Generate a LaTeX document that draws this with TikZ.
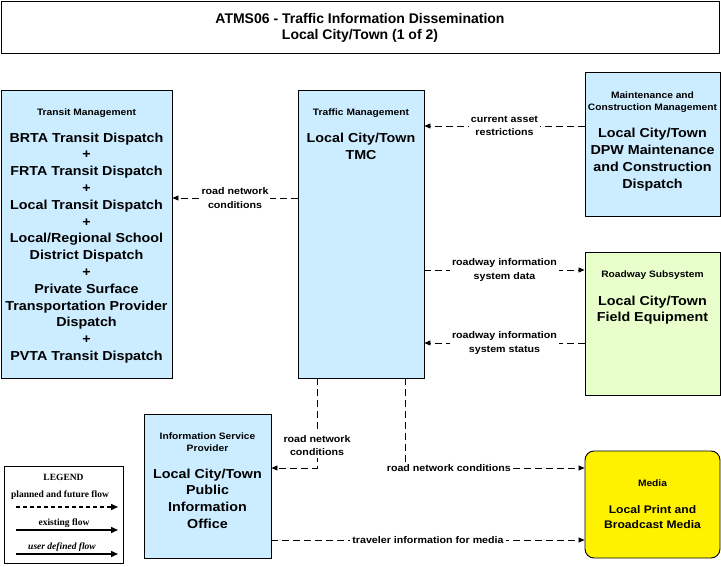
\documentclass[tikz,border=0pt]{standalone}
\usepackage{fontspec}
\setmainfont{Liberation Sans}
\newfontfamily\wideface[FakeStretch=1.1]{Liberation Sans}
\newfontfamily\legendface{Liberation Serif}
\usetikzlibrary{positioning,arrows.meta}
\definecolor{centerblue}{HTML}{CCECFF}
\definecolor{fieldgreen}{HTML}{E8FFCC}
\tikzset{
  element/.style={
    shape = rectangle,
    draw,
    line width = 0.9pt,
    inner sep = 0pt,
    fill = centerblue
  },
  head/.style={
    font = \wideface\bfseries\fontsize{9.3}{12}\selectfont,
    align = center,
    inner sep = 0pt
  },
  body/.style={
    font = \wideface\bfseries\fontsize{13}{16.8}\selectfont,
    align = center,
    inner sep = 0pt
  },
  flowlabel/.style={
    font = \wideface\bfseries\fontsize{9.7}{13.5}\selectfont,
    align = center,
    fill = white,
    inner sep = 2pt
  },
  flow/.style={
    line width = 0.8pt,
    dash pattern = on 7pt off 4pt,
    -{Triangle[length=6pt,width=5pt]}
  },
  legendtext/.style={
    font = \legendface\bfseries\fontsize{9.5}{10}\selectfont,
    inner sep = 0pt
  },
  legendflow/.style={
    line width = 1.5pt,
    -{Triangle[length=7pt,width=6pt]}
  }
}

\begin{document}
\begin{tikzpicture}[x=1pt, y=-1pt]
        \useasboundingbox (0,0) rectangle (721,567);
        \node[element, fill=white, minimum width=718pt, minimum height=52pt] (title) at (360,27) {};
        \node[below=12.5pt of title.north, align=center, inner sep=0pt, font=\bfseries\fontsize{14}{16.5}\selectfont] (titletext) {ATMS06 - Traffic Information Dissemination\\Local City/Town (1 of 2)};

        \node[element, minimum width=171pt, minimum height=288pt] (transit) at (86.5,234) {};
        \node[head, below=19pt of transit.north] (transithead) {Transit Management};
        \node[body, below=43pt of transit.north] (transitbody) {BRTA Transit Dispatch\\+\\FRTA Transit Dispatch\\+\\Local Transit Dispatch\\+\\Local/Regional School\\District Dispatch\\+\\Private Surface\\Transportation Provider\\Dispatch\\+\\PVTA Transit Dispatch};

        \node[element, minimum width=126pt, minimum height=288pt] (tmc) at (361,234) {};
        \node[head, below=19pt of tmc.north] (tmchead) {Traffic Management};
        \node[body, below=43.5pt of tmc.north] (tmcbody) {Local City/Town\\TMC};

        \node[element, minimum width=135pt, minimum height=144pt] (maint) at (652.5,144) {};
        \node[head, below=20.5pt of maint.north] (mainthead) {Maintenance and\\Construction Management};
        \node[body, below=56.5pt of maint.north] (maintbody) {Local City/Town\\DPW Maintenance\\and Construction\\Dispatch};

        \node[element, fill=fieldgreen, minimum width=135pt, minimum height=143pt] (road) at (652.5,323.5) {};
        \node[head, below=19.5pt of road.north] (roadhead) {Roadway Subsystem};
        \node[body, below=44pt of road.north] (roadbody) {Local City/Town\\Field Equipment};

        \node[element, minimum width=127pt, minimum height=144pt] (isp) at (207.5,486) {};
        \node[head, below=19.5pt of isp.north] (isphead) {Information Service\\Provider};
        \node[body, below=55pt of isp.north] (ispbody) {Local City/Town\\Public\\Information\\Office};

        \node[element, fill=yellow, rounded corners=9pt, minimum width=135pt, minimum height=107pt] (media) at (652.5,504.5) {};
        \node[head, below=29.5pt of media.north] (mediahead) {Media};
        \node[body, below=54.5pt of media.north, font=\wideface\bfseries\fontsize{11}{15}\selectfont] (mediabody) {Local Print and\\Broadcast Media};

        \draw[flow] (maint.west |- 0,126) -- (tmc.east |- 0,126) node[flowlabel, midway] (carlabel) {current asset\\restrictions};
        \draw[flow] (tmc.west |- 0,198) -- (transit.east |- 0,198) node[flowlabel, midway] (rnctransit) {road network\\conditions};
        \draw[flow] (tmc.east |- 0,270) -- (road.west |- 0,270) node[flowlabel, midway] (risdata) {roadway information\\system data};
        \draw[flow] (road.west |- 0,343) -- (tmc.east |- 0,343) node[flowlabel, midway] (risstatus) {roadway information\\system status};
        \draw[flow] (tmc.south -| 317,0) |- (isp.east |- 0,468) node[flowlabel, pos=0.375] (rncisp) {road network\\conditions};
        \draw[flow] (tmc.south -| 405,0) |- (media.west |- 0,468) node[flowlabel, pos=0.622] (rncmedia) {road network conditions};
        \draw[flow] (isp.east |- 0,540) -- (media.west |- 0,540) node[flowlabel, midway] (tiformedia) {traveler information for media};

        \node[element, fill=white, line width=0.8pt, minimum width=119pt, minimum height=97pt] (legend) at (63.5,514.5) {};
        \node[legendtext] (legendtitle) at (63.5,477) {LEGEND};
        \node[legendtext] (plannedtext) at (60,495) {planned and future flow};
        \node[legendtext] (existingtext) at (64,523) {existing flow};
        \node[legendtext, font=\legendface\bfseries\itshape\fontsize{9.5}{10}\selectfont] (usertext) at (62,547) {user defined flow};
        \coordinate (planneda) at (16,507);
        \coordinate (plannedb) at (118,507);
        \coordinate (existinga) at (16,530);
        \coordinate (existingb) at (118,530);
        \coordinate (usera) at (16,554);
        \coordinate (userb) at (118,554);
        \draw[legendflow, dash pattern=on 4pt off 3pt] (planneda) -- (plannedb);
        \draw[legendflow] (existinga) -- (existingb);
        \draw[legendflow] (usera) -- (userb);
\end{tikzpicture}
\end{document}
